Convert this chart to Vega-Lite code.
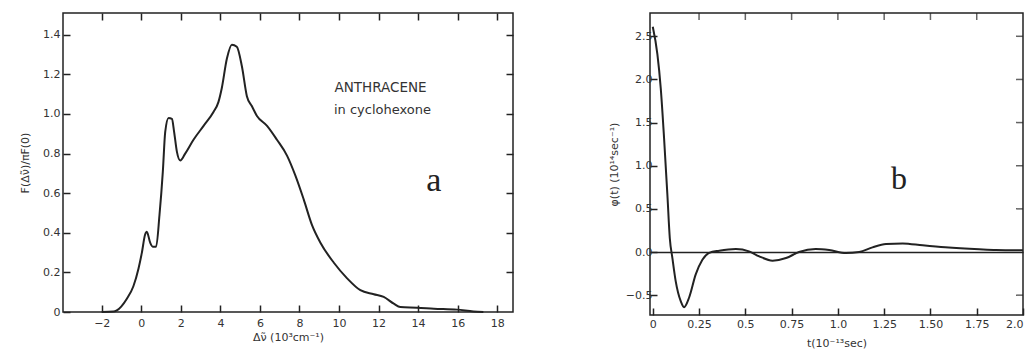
{
  "$schema": "https://vega.github.io/schema/vega-lite/v6.json",
  "background": "white",
  "padding": {"left": 18, "top": 11, "right": 0, "bottom": 0},
  "spacing": 92,
  "config": {
    "view": {"stroke": "#222", "strokeWidth": 1.5},
    "axis": {
      "domain": false, "grid": false,
      "tickColor": "#222", "tickWidth": 1.5, "tickSize": -7,
      "labelFont": "DejaVu Sans", "labelFontSize": 11, "labelColor": "#333",
      "titleFont": "DejaVu Sans", "titleFontSize": 11, "titleColor": "#333", "titleFontWeight": "normal"
    },
    "line": {"color": "#222", "strokeWidth": 2}
  },
  "datasets": {
    "spec": [
      {"x": -2.0, "y": 0}, {"x": -1.4, "y": 0.002}, {"x": -1.24, "y": 0.008}, {"x": -0.73, "y": 0.067},
      {"x": -0.40, "y": 0.13}, {"x": -0.14, "y": 0.22}, {"x": 0.03, "y": 0.30}, {"x": 0.19, "y": 0.39},
      {"x": 0.28, "y": 0.405}, {"x": 0.45, "y": 0.35}, {"x": 0.58, "y": 0.33}, {"x": 0.75, "y": 0.33},
      {"x": 0.92, "y": 0.49}, {"x": 1.09, "y": 0.71}, {"x": 1.21, "y": 0.91}, {"x": 1.38, "y": 0.98},
      {"x": 1.55, "y": 0.975}, {"x": 1.66, "y": 0.91}, {"x": 1.80, "y": 0.81}, {"x": 1.97, "y": 0.765},
      {"x": 2.22, "y": 0.80}, {"x": 2.64, "y": 0.87}, {"x": 3.15, "y": 0.94}, {"x": 3.65, "y": 1.01},
      {"x": 3.90, "y": 1.06}, {"x": 4.07, "y": 1.13}, {"x": 4.33, "y": 1.28}, {"x": 4.58, "y": 1.35},
      {"x": 4.83, "y": 1.34}, {"x": 5.09, "y": 1.24}, {"x": 5.34, "y": 1.09}, {"x": 5.59, "y": 1.04},
      {"x": 5.85, "y": 0.99}, {"x": 6.36, "y": 0.94}, {"x": 6.86, "y": 0.87}, {"x": 7.37, "y": 0.79},
      {"x": 7.79, "y": 0.69}, {"x": 8.21, "y": 0.57}, {"x": 8.63, "y": 0.44}, {"x": 9.06, "y": 0.35},
      {"x": 9.73, "y": 0.25}, {"x": 10.41, "y": 0.17}, {"x": 11.08, "y": 0.11}, {"x": 11.76, "y": 0.09},
      {"x": 12.26, "y": 0.076}, {"x": 12.77, "y": 0.042}, {"x": 13.1, "y": 0.025}, {"x": 13.95, "y": 0.022},
      {"x": 14.8, "y": 0.017}, {"x": 15.97, "y": 0.012}, {"x": 16.8, "y": 0.003}, {"x": 17.3, "y": 0}
    ],
    "corr": [
      {"t": 0, "phi": 2.61}, {"t": 0.025, "phi": 2.29}, {"t": 0.043, "phi": 1.90}, {"t": 0.061, "phi": 1.32},
      {"t": 0.079, "phi": 0.66}, {"t": 0.092, "phi": 0.16}, {"t": 0.106, "phi": -0.07}, {"t": 0.124, "phi": -0.34},
      {"t": 0.151, "phi": -0.57}, {"t": 0.169, "phi": -0.64}, {"t": 0.196, "phi": -0.53}, {"t": 0.232, "phi": -0.26},
      {"t": 0.268, "phi": -0.09}, {"t": 0.305, "phi": -0.01}, {"t": 0.359, "phi": 0.015}, {"t": 0.449, "phi": 0.035},
      {"t": 0.52, "phi": 0.008}, {"t": 0.575, "phi": -0.05}, {"t": 0.647, "phi": -0.10}, {"t": 0.72, "phi": -0.07},
      {"t": 0.79, "phi": 0.0}, {"t": 0.88, "phi": 0.035}, {"t": 0.953, "phi": 0.023}, {"t": 1.043, "phi": -0.012},
      {"t": 1.115, "phi": 0.0}, {"t": 1.187, "phi": 0.054}, {"t": 1.26, "phi": 0.093}, {"t": 1.35, "phi": 0.10},
      {"t": 1.458, "phi": 0.077}, {"t": 1.58, "phi": 0.054}, {"t": 1.764, "phi": 0.031}, {"t": 1.854, "phi": 0.023},
      {"t": 2.0, "phi": 0.02}
    ],
    "bTopTicks": [{"t": 0.25}, {"t": 0.5}, {"t": 0.75}, {"t": 1.0}, {"t": 1.25}, {"t": 1.5}, {"t": 1.75}],
    "bRightTicks": [{"phi": -0.5}, {"phi": 0.5}, {"phi": 1.0}, {"phi": 1.5}, {"phi": 2.0}, {"phi": 2.5}]
  },
  "hconcat": [
    {
      "width": 450, "height": 299,
      "layer": [
        {
          "data": {"name": "spec"},
          "mark": {"type": "line", "interpolate": "monotone"},
          "encoding": {
            "x": {"field": "x", "type": "quantitative", "scale": {"domain": [-3.96, 18.8], "nice": false, "zero": false},
                  "axis": {"values": [-2, 0, 2, 4, 6, 8, 10, 12, 14, 16, 18], "format": "d", "labelPadding": 12, "title": "Δν̃ (10³cm⁻¹)", "titlePadding": 3}},
            "y": {"field": "y", "type": "quantitative", "scale": {"domain": [0, 1.51], "nice": false},
                  "axis": {"values": [0, 0.2, 0.4, 0.6, 0.8, 1.0, 1.2, 1.4], "labelExpr": "datum.value == 0 ? '0' : format(datum.value, '.1f')", "labelPadding": 10, "title": "F(Δν̃)/πF(0)", "titlePadding": 12}}
          }
        },
        {
          "data": {"name": "spec"},
          "mark": {"type": "line", "opacity": 0},
          "encoding": {
            "x": {"field": "x", "type": "quantitative", "scale": {"domain": [-3.96, 18.8], "nice": false, "zero": false},
                  "axis": {"orient": "top", "values": [-2, 0, 2, 4, 6, 8, 10, 12, 14, 16, 18], "labels": false, "title": null}},
            "y": {"field": "y", "type": "quantitative", "scale": {"domain": [0, 1.51], "nice": false},
                  "axis": {"orient": "right", "values": [0.2, 0.4, 0.6, 0.8, 1.0, 1.2, 1.4], "labels": false, "title": null}}
          }
        },
        {
          "data": {"values": [{}]},
          "mark": {"type": "text", "font": "DejaVu Sans", "fontSize": 13.5, "color": "#333"},
          "encoding": {"x": {"datum": 12.1, "axis": null}, "y": {"datum": 1.13, "axis": null}, "text": {"value": "ANTHRACENE"}}
        },
        {
          "data": {"values": [{}]},
          "mark": {"type": "text", "font": "DejaVu Sans", "fontSize": 13, "color": "#333"},
          "encoding": {"x": {"datum": 12.2, "axis": null}, "y": {"datum": 1.02, "axis": null}, "text": {"value": "in cyclohexone"}}
        },
        {
          "data": {"values": [{}]},
          "mark": {"type": "text", "font": "Liberation Serif", "fontSize": 34, "color": "#222"},
          "encoding": {"x": {"datum": 14.8, "axis": null}, "y": {"datum": 0.66, "axis": null}, "text": {"value": "a"}}
        }
      ],
      "resolve": {"axis": {"x": "independent", "y": "independent"}}
    },
    {
      "width": 373, "height": 302,
      "layer": [
        {
          "data": {"name": "corr"},
          "mark": {"type": "line", "interpolate": "monotone"},
          "encoding": {
            "x": {"field": "t", "type": "quantitative", "scale": {"domain": [-0.015, 2.0], "nice": false, "zero": false},
                  "axis": {"values": [0, 0.25, 0.5, 0.75, 1.0, 1.25, 1.5, 1.75, 2.0], "labelExpr": "datum.value == 0 ? '0' : (datum.value == 1.5 ? '1.50' : (datum.value == 1 || datum.value == 2 ? format(datum.value, '.1f') : format(datum.value, '')))", "labelPadding": 10, "title": "t(10⁻¹³sec)", "titlePadding": 8}},
            "y": {"field": "phi", "type": "quantitative", "scale": {"domain": [-0.73, 2.77], "nice": false},
                  "axis": {"values": [-0.5, 0, 0.5, 1.0, 1.5, 2.0, 2.5], "format": ".1f", "labelPadding": 5, "title": "φ(t) (10¹⁴sec⁻¹)", "titlePadding": 6,
                           "grid": true, "gridColor": "#222", "gridWidth": 1.5,
                           "gridOpacity": {"condition": {"test": "datum.value == 0", "value": 1}, "value": 0}}}
          }
        },
        {
          "data": {"name": "bTopTicks"},
          "mark": {"type": "tick", "orient": "vertical", "color": "#222", "size": 7, "thickness": 1.5, "yOffset": 3.5},
          "encoding": {"x": {"field": "t", "type": "quantitative"}, "y": {"datum": 2.77, "type": "quantitative"}}
        },
        {
          "data": {"name": "bRightTicks"},
          "mark": {"type": "tick", "orient": "horizontal", "color": "#222", "size": 7, "thickness": 1.5, "xOffset": -3.5},
          "encoding": {"y": {"field": "phi", "type": "quantitative"}, "x": {"datum": 2.0, "type": "quantitative"}}
        },
        {
          "data": {"values": [{}]},
          "mark": {"type": "text", "font": "Liberation Serif", "fontSize": 32, "color": "#222"},
          "encoding": {"x": {"datum": 1.33}, "y": {"datum": 0.85}, "text": {"value": "b"}}
        }
      ]
    }
  ]
}
